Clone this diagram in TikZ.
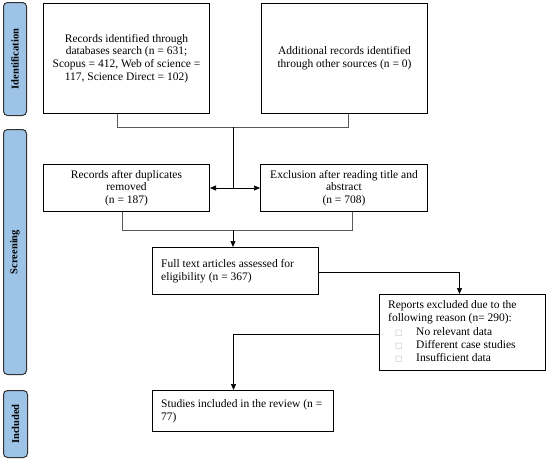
\documentclass[tikz,border=0pt]{standalone}
\usepackage{fontspec}
\setmainfont{Liberation Serif}
\newfontfamily\dejavu{DejaVu Sans}
\usetikzlibrary{arrows.meta}
\definecolor{barblue}{RGB}{157,195,230}
\definecolor{bardraw}{RGB}{50,50,50}
\definecolor{conncol}{RGB}{90,90,90}
\newcommand{\chk}{{\color{gray!55}\dejavu\fontsize{8}{8}\selectfont □}}
\newcommand{\bul}{\makebox[28pt][l]{\hspace*{7pt}\chk}}
\begin{document}
\begin{tikzpicture}[x=1pt,y=-1pt,
  box/.style={draw=black,line width=1pt,fill=white,anchor=north west,inner sep=0pt},
  txt/.style={font=\fontsize{11.5}{12.8}\selectfont,inner sep=0pt},
  sidebar/.style={draw=bardraw,line width=1pt,fill=barblue,rounded corners=4pt,anchor=north west,inner sep=0pt},
  sidelabel/.style={rotate=90,font=\bfseries\fontsize{10.5}{12}\selectfont},
  conn/.style={draw=conncol,line width=0.7pt},
  arr/.style={conn,-{Triangle[length=6pt,width=5pt]},draw=black}
]
\useasboundingbox (0,0) rectangle (550,461);
% side bars
\node[sidebar,minimum width=23pt,minimum height=113pt] (sb1) at (3,2) {};
\node[sidelabel] (sl1) at (sb1.center) {Identification};
\node[sidebar,minimum width=23pt,minimum height=245pt] (sb2) at (3,129) {};
\node[sidelabel] (sl2) at (sb2.center) {Screening};
\node[sidebar,minimum width=24pt,minimum height=67pt] (sb3) at (3,390) {};
\node[sidelabel] (sl3) at (sb3.center) {Included};
% boxes
\node[box,minimum width=166pt,minimum height=110pt] (b1) at (43,3) {};
\node[txt,align=center] (t1) at (b1.center) {Records identified through\\databases search (n = 631;\\Scopus = 412, Web of science =\\117, Science Direct = 102)};
\node[box,minimum width=166pt,minimum height=110pt] (b2) at (261,3) {};
\node[txt,align=center] (t2) at (b2.center) {Additional records identified\\through other sources (n = 0)};
\node[box,minimum width=166pt,minimum height=47pt] (b3) at (43,164) {};
\node[txt,align=center] (t3) at (b3.center) {Records after duplicates\\removed\\(n = 187)};
\node[box,minimum width=167pt,minimum height=47pt] (b4) at (260,164) {};
\node[txt,align=center] (t4) at (b4.center) {Exclusion after reading title and\\abstract\\(n = 708)};
\node[box,minimum width=166pt,minimum height=47pt] (b5) at (152,247) {};
\node[txt,align=left,anchor=west] (t5) at ([xshift=9pt]b5.west) {Full text articles assessed for\\eligibility (n = 367)};
\node[box,minimum width=166pt,minimum height=76pt] (b6) at (379,294) {};
\node[txt,align=left,anchor=west,font=\fontsize{11.5}{13.3}\selectfont] (t6) at ([xshift=9pt,yshift=1pt]b6.west) {Reports excluded due to the\\following reason (n= 290):\\\bul No relevant data\\\bul Different case studies\\\bul Insufficient data};
\node[box,minimum width=181pt,minimum height=41pt] (b7) at (152,390) {};
\node[txt,align=left,anchor=west] (t7) at ([xshift=9pt]b7.west) {Studies included in the review (n =\\77)};
% connectors
\coordinate (j1) at (233,127);
\coordinate (j2) at (233,188);
\coordinate (j3) at (233,230);
\draw[conn] ([xshift=-9pt]b1.south) |- (j1);
\draw[conn] ([xshift=4pt]b2.south) |- (j1);
\draw[conn,draw=black] (j1) -- (j2);
\draw[arr] (j2) -- (b3.east);
\draw[arr] (j2) -- (b4.west);
\draw[conn] ([xshift=-4pt]b3.south) |- (j3);
\draw[conn] ([xshift=8pt]b4.south) |- (j3);
\draw[arr] (j3) -- (j3 |- b5.north);
\draw[arr] ([yshift=-1.5pt]b5.east) -| ([xshift=-3pt]b6.north);
\draw[arr] ([yshift=-2pt]b6.west) -| ([xshift=-9.5pt]b7.north);
\end{tikzpicture}
\end{document}
